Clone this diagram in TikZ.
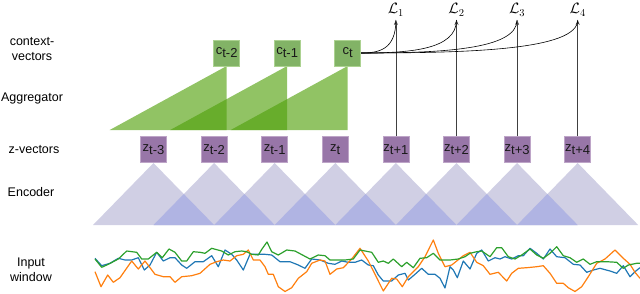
\documentclass[tikz,border=0pt]{standalone}
\usepackage{fix-cm}
\usepackage{fontspec}
\setmainfont{Liberation Sans}
\usetikzlibrary{arrows.meta, positioning, calc}

\definecolor{zfill}{RGB}{152,118,168}
\definecolor{zedge}{RGB}{190,165,200}
\definecolor{cfill}{RGB}{130,179,102}
\definecolor{cedge}{RGB}{172,210,145}
\definecolor{aggcol}{RGB}{80,160,10}
\definecolor{enclight}{RGB}{208,207,228}
\definecolor{encdark}{RGB}{176,180,227}
\definecolor{serblue}{RGB}{31,119,180}
\definecolor{serorange}{RGB}{255,127,14}
\definecolor{sergreen}{RGB}{44,160,44}

\newcommand{\lowidx}[1]{\raisebox{-3pt}{#1}}

\tikzset{
  vecbox/.style={minimum width=26pt, minimum height=26pt, inner sep=0pt,
    font=\fontsize{13}{13}\selectfont, text=black!90},
  zvec/.style={vecbox, fill=zfill, draw=zedge, line width=0.6pt},
  cvec/.style={vecbox, fill=cfill, draw=cedge, line width=0.6pt},
  rowlabel/.style={align=center, font=\fontsize{12.5}{15}\selectfont},
  losslabel/.style={anchor=south, inner sep=1pt, outer sep=3pt,
    font=\fontsize{15}{15}\selectfont},
  series/.style={line width=1.2pt, line join=round},
  pred/.style={-{Stealth[length=5pt,width=4pt]}, line width=0.6pt, black!75},
  ctxline/.style={line width=0.6pt}
}

\begin{document}
\begin{tikzpicture}[x=1pt, y=-1pt]
    \useasboundingbox (0,0) rectangle (640,293);

    % Rij labels
    \node[rowlabel] (lctx) at (32,49) {context-\\vectors};
    \node[rowlabel] (lagg) at (32,98) {Aggregator};
    \node[rowlabel] (lzv) at (34,150) {z-vectors};
    \node[rowlabel] (lenc) at (31,192) {Encoder};
    \node[rowlabel] (linp) at (31,270) {Input\\window};

    % Encoder driehoeken
    \foreach \i in {0,...,7} {
        \fill[enclight] (153.5+60.6*\i-60.5,225) -- (153.5+60.6*\i,163) -- (153.5+60.6*\i+60.5,225) -- cycle;
    }
    \foreach \i in {0,...,6} {
        \fill[encdark] (153.5+60.6*\i,225) -- (153.5+60.6*\i+30.3,194) -- (153.5+60.6*\i+60.6,225) -- cycle;
    }

    % Aggregator driehoeken
    \foreach \i in {0,1,2} {
        \fill[aggcol, fill opacity=0.63] (226.7+60.5*\i-117,130) -- (226.7+60.5*\i,66) -- (226.7+60.5*\i,130) -- cycle;
    }

    % z-vectoren
    \foreach \i/\lab in {0/t-3,1/t-2,2/t-1,3/t,4/t+1,5/t+2,6/t+3,7/t+4} {
        \node[zvec] (z\i) at (153.5+60.6*\i,149.5) {z\lowidx{\lab}};
    }

    % context-vectoren
    \foreach \i/\lab in {0/t-2,1/t-1,2/t} {
        \node[cvec] (c\i) at (226.7+60.5*\i,53) {c\lowidx{\lab}};
    }

    % Verliezen
    \coordinate (top) at (0,20);
    \foreach \k/\j in {1/4,2/5,3/6,4/7} {
        \node[losslabel] (L\k) at (z\j |- top) {$\mathcal{L}_\k$};
        \draw[pred] (z\j.north) -- (L\k.south);
    }
    \foreach \k in {1,...,4} {
        \coordinate (h\k) at (c2.east -| L\k.south);
        \draw[ctxline] (c2.east) .. controls ($(c2.east)!0.5!(h\k)$) and ($(L\k.south)+(0,30)$) .. (L\k.south);
    }

    % Input window
    \draw[serblue, series] plot coordinates {(95,258.3) (101.7,265.7) (110,263.3) (118.3,258.3) (125,260) (131.7,260) (138.3,257.7) (144.3,270) (150,265) (156.7,252.3) (163.3,261) (170,257.7) (175,257.7) (181.7,265) (186.7,268.3) (195,261.7) (203.3,261.7) (211.7,255.7) (218.3,266.7) (225,250) (231.7,254.3) (236.7,260) (243.3,270) (250,254.3) (258.3,254.3) (265,254.3) (271.7,255) (280,261.7) (290,261.7) (298.3,265) (305,268.3) (311.7,259) (320,260) (328.3,263.3) (335,264.3) (341.7,261) (348.3,262.3) (355,262.3) (361.7,260) (368.3,265) (373.3,265.7) (378.3,275) (383.3,281) (391.7,281) (398.3,275) (405,273.3) (408.3,280) (415,274.3) (421.7,268.3) (428.3,274.3) (435,274.3) (440,278.3) (445,288) (450,266.7) (453.3,270) (457.3,277.7) (463.3,261) (470,269) (476.7,253.3) (481.7,250) (488.3,261) (495,257.7) (500,259) (505,256.7) (511.7,259) (518.3,255.7) (523.3,255.7) (530,248.3) (536.7,253.3) (543.3,259) (550,249) (556.7,256.7) (565,257.7) (573.3,264.3) (580,265) (586.7,272.3) (593.3,270) (600,268.3) (610,271) (616.7,273.3) (623.3,265.7) (630,276.7) (635,271.7) (640,267.7)};
    \draw[serorange, series] plot coordinates {(95,271.7) (101,286.7) (107.7,275) (113.3,282.3) (120,277.7) (131.7,261) (138.3,269) (145,261) (155,274.3) (163.3,276.7) (170,276.7) (175,282.3) (181.7,276.7) (191.7,275.7) (200,273.3) (210,264.3) (216.7,261.7) (223.3,260) (230,261) (236.7,255.7) (243.3,254.3) (248.3,250) (253.3,260) (260,260) (265,266.7) (268.3,274.3) (273.3,274.3) (278.3,286.7) (285,291.5) (291.7,287.7) (298.3,278.3) (306.7,271.7) (311.7,263.3) (320,260) (325,261) (330,274.3) (336.7,269) (343.3,267.7) (351.7,259) (360,248.3) (368.3,261) (375,274.3) (383.3,291) (391.7,278.3) (396.7,279) (402.3,286.7) (408.3,276.7) (418.3,266.7) (425,256.7) (433.3,240) (438.3,253.3) (445,266.7) (451.7,265) (456.7,261) (463.3,255.7) (470,252.3) (476.7,262.3) (483.3,265.7) (490,274.3) (498.3,272.3) (506.7,281) (511.7,273.3) (518.3,268.3) (526.7,267.7) (536.7,266.7) (543.3,265.7) (550,273.3) (556.7,283.3) (563.3,283.3) (568.3,287.7) (575,291.5) (581.7,286.7) (588.3,276.7) (596.7,263.3) (605,259) (615,250) (623.3,258.3) (630,264.3) (635,272.3) (640,278.3)};
    \draw[sergreen, series] plot coordinates {(95,259) (101.7,267.3) (108.3,264.3) (118.3,259) (126.7,251) (136.7,252.3) (141.7,259) (148.3,259) (156.7,252.3) (162.3,257.7) (169,249) (175,252.3) (181.7,261) (186.7,261) (193.3,251.7) (200,252.3) (205,253.3) (211.7,248.3) (221.7,251) (228.3,255) (235,251.7) (241.7,251) (246.7,251.7) (251.7,254.3) (258.3,255) (262,249) (267,242) (271.7,251.7) (278.3,255) (286.7,250) (295,251) (310,259) (318.3,255) (325,255.7) (330,260) (345,260) (353.3,259) (360,250) (371.7,252.3) (378.3,262.3) (383.3,261) (388.3,263.3) (393.3,259) (401.7,266.7) (406.7,262.3) (413.3,267.7) (420,258.3) (426.7,257.7) (433.3,253.3) (440,260) (450,260) (458.3,259) (465,256.7) (470,253.3) (476.7,251.7) (481.7,251) (490,256.7) (496.7,247.7) (501.7,247.7) (508.3,256.7) (515,259) (521.7,255) (530,249) (536.7,255) (543.3,258.3) (550,253.3) (556.7,246.7) (563.3,255.7) (570,257.7) (576.7,262.3) (583.3,259) (590,264.3) (596.7,261.7) (606.7,261.7) (616.7,262.3) (623.3,268.3) (628.3,265) (636.7,263.3) (640,263.3)};
\end{tikzpicture}
\end{document}
